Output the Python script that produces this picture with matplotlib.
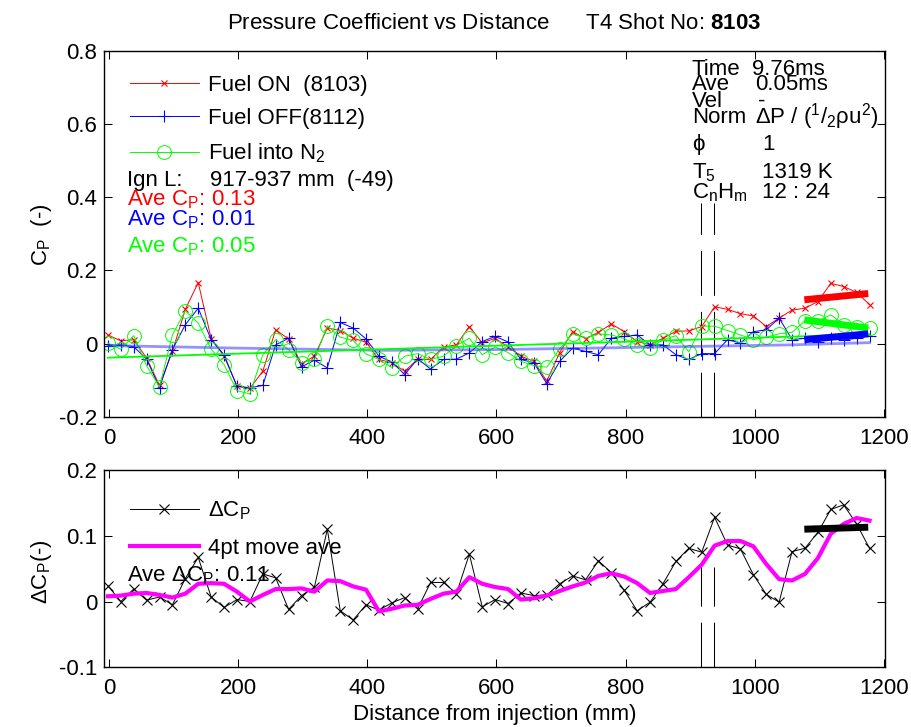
import matplotlib

matplotlib.use("Agg")
import matplotlib.pyplot as plt

plt.rcParams["font.family"] = ["Liberation Sans", "DejaVu Sans"]
plt.rcParams["mathtext.fontset"] = "custom"
plt.rcParams["mathtext.rm"] = "Liberation Sans"
plt.rcParams["mathtext.it"] = "Liberation Sans:italic"
plt.rcParams["mathtext.bf"] = "Liberation Sans:bold"
plt.rcParams["axes.unicode_minus"] = False

# transducer positions, mm from injection
distance = [
    -2, 18, 38, 58, 78, 98, 118, 138, 158, 178,
    198, 218, 238, 258, 278, 298, 318, 338, 358, 378,
    398, 418, 438, 458, 478, 498, 518, 538, 558, 578,
    598, 618, 638, 658, 678, 698, 718, 738, 758, 778,
    798, 818, 838, 858, 878, 898, 918, 938, 958, 978,
    998, 1018, 1038, 1058, 1078, 1098, 1118, 1138, 1158, 1178,
]

cp_fuel_on = [
    0.024, 0.008, 0.011, -0.039, -0.114, -0.021, 0.094, 0.167, 0.014, -0.034,
    -0.116, -0.122, -0.075, 0.038, 0.013, -0.054, -0.034, 0.043, 0.036, 0.015,
    0.004, -0.043, -0.052, -0.075, -0.042, -0.043, -0.009, -0.003, 0.047, 0.002,
    0.015, -0.009, -0.034, -0.048, -0.102, -0.024, 0.033, 0.014, 0.031, 0.054,
    0.033, 0.006, -0.003, 0.015, 0.034, 0.035, 0.047, 0.101, 0.094, 0.082,
    0.076, 0.047, 0.070, 0.092, 0.097, 0.115, 0.165, 0.156, 0.140, 0.107,
]

cp_fuel_off = [
    -0.005, -0.003, -0.008, -0.042, -0.120, -0.016, 0.052, 0.097, 0.011, -0.030,
    -0.116, -0.120, -0.114, -0.003, 0.015, -0.063, -0.045, -0.066, 0.058, 0.043,
    0.013, -0.034, -0.050, -0.084, -0.041, -0.069, -0.043, -0.042, -0.025, 0.006,
    0.020, 0.005, -0.043, -0.052, -0.109, -0.048, -0.012, -0.021, -0.030, 0.015,
    0.020, 0.024, -0.003, -0.003, -0.030, -0.043, -0.027, -0.027, 0.011, 0.002,
    0.033, 0.038, 0.070, 0.011, 0.015, 0.006, 0.015, 0.010, 0.015, 0.022,
]

cp_fuel_n2 = [
    0.002, -0.015, 0.022, -0.060, -0.118, 0.024, 0.090, 0.056, -0.015, -0.057,
    -0.128, -0.137, -0.030, 0.011, -0.016, -0.052, -0.043, 0.049, 0.018, 0.009,
    -0.028, -0.043, -0.065, -0.034, -0.027, -0.043, -0.034, -0.005, 0.015, -0.030,
    -0.009, -0.024, -0.048, -0.060, -0.064, -0.014, 0.027, 0.015, 0.027, 0.024,
    0.014, -0.003, -0.012, 0.011, 0.022, -0.022, 0.048, 0.048, 0.036, 0.024,
    0.011, 0.018, 0.027, 0.031, 0.063, 0.061, 0.079, 0.052, 0.047, 0.043,
]

delta_cp = [
    0.024, 0.000, 0.019, 0.002, 0.007, -0.005, 0.035, 0.067, 0.007, -0.009,
    0.003, 0.000, 0.042, 0.036, -0.012, 0.009, 0.022, 0.110, -0.014, -0.028,
    -0.005, -0.013, -0.002, 0.006, -0.011, 0.029, 0.029, 0.012, 0.072, -0.008,
    0.003, -0.003, 0.013, 0.009, 0.010, 0.027, 0.039, 0.033, 0.062, 0.044,
    0.017, -0.014, -0.001, 0.027, 0.061, 0.081, 0.075, 0.128, 0.086, 0.080,
    0.041, 0.011, -0.001, 0.076, 0.081, 0.105, 0.140, 0.147, 0.118, 0.081,
]

delta_move_ave = [
    0.008, 0.009, 0.012, 0.013, 0.010, 0.006, 0.012, 0.027, 0.028, 0.027,
    0.015, 0.000, 0.010, 0.019, 0.019, 0.020, 0.015, 0.032, 0.031, 0.023,
    0.018, -0.015, -0.011, -0.006, -0.005, 0.004, 0.012, 0.015, 0.037, 0.027,
    0.022, 0.019, 0.003, 0.005, 0.009, 0.016, 0.023, 0.029, 0.039, 0.043,
    0.038, 0.028, 0.013, 0.016, 0.019, 0.037, 0.056, 0.085, 0.092, 0.092,
    0.084, 0.057, 0.034, 0.032, 0.042, 0.066, 0.103, 0.118, 0.127, 0.123,
]

# slow trend lines under the data
n2_trend_x = [-2, 1178]
n2_trend = [-0.038, 0.026]
off_trend_x = [-2, 200, 420, 600, 850, 1060, 1178]
off_trend = [-0.005, -0.012, -0.018, -0.016, -0.009, -0.003, 0.003]

# averaging window at the end of the duct
fit_x = [1077, 1176]
fit_on = [0.120, 0.137]
fit_off = [0.011, 0.027]
fit_n2 = [0.065, 0.043]
fit_delta = [0.110, 0.113]

# ignition location markers
ign_x = [917, 937]
ign_cp = [-0.2, 0.383]
ign_dcp = [-0.1, 0.052]

x_ticks = [0, 200, 400, 600, 800, 1000, 1200]
cp_ticks = [-0.2, 0, 0.2, 0.4, 0.6, 0.8]
cp_tick_labels = ["-0.2", "0", "0.2", "0.4", "0.6", "0.8"]
dcp_ticks = [-0.1, 0, 0.1, 0.2]
dcp_tick_labels = ["-0.1", "0", "0.1", "0.2"]

FS = 16
W, H = 912, 727
AX_L, AX_R = 104, 885


def fig_rect(top_px, bottom_px):
    return [AX_L / W, 1 - bottom_px / H, (AX_R - AX_L) / W, (bottom_px - top_px) / H]


def style_axes(ax, yticks, ylabels, ylim):
    ax.set_xlim(-8, 1202)
    ax.set_ylim(*ylim)
    ax.set_xticks(x_ticks)
    ax.set_xticklabels([str(t) for t in x_ticks])
    ax.set_yticks(yticks)
    ax.set_yticklabels(ylabels)
    ax.tick_params(direction="in", top=True, right=True, length=5.5, width=0.75, labelsize=FS)
    ax.tick_params(axis="y", pad=5)
    ax.tick_params(axis="x", pad=8)
    for spine in ax.spines.values():
        spine.set_linewidth(1.0)


def draw_ign_lines(ax, yrange):
    for x in ign_x:
        ax.plot([x, x], yrange, color="black", lw=0.75, dashes=(43, 15.4), zorder=1)


fig = plt.figure(figsize=(W / 100, H / 100), dpi=100)
ax1 = fig.add_axes(fig_rect(50.7, 417))
ax2 = fig.add_axes(fig_rect(470, 667.3))

# ---- top: pressure coefficient ----
draw_ign_lines(ax1, ign_cp)
ax1.plot(distance, cp_fuel_on, color="red", lw=0.7, marker="x", ms=5, mew=0.8, label="Fuel ON  (8103)")
ax1.plot(distance, cp_fuel_off, color="blue", lw=0.7, marker="+", ms=9, mew=0.8, label="Fuel OFF(8112)")
ax1.plot(distance, cp_fuel_n2, color="#00ff00", lw=0.7, marker="o", ms=10, mew=0.7, mfc="none",
         label=r"Fuel into $\mathregular{N_2}$")
ax1.plot(off_trend_x, off_trend, color="#3a3aff", lw=2.0, alpha=0.55)
ax1.plot(n2_trend_x, n2_trend, color="#00ff00", lw=1.3)
for vals, col in ((fit_on, "red"), (fit_n2, "#00ff00"), (fit_off, "blue")):
    ax1.plot(fit_x, vals, color=col, lw=5, solid_capstyle="butt", zorder=5)
style_axes(ax1, cp_ticks, cp_tick_labels, (-0.2, 0.8))

ax1.legend(loc="upper left", bbox_to_anchor=(0.0333, 0.934), frameon=False, fontsize=FS,
           handlelength=3.1, handletextpad=0.4, borderpad=0, borderaxespad=0, labelspacing=0.55)


def top_text(px, py, s, **kw):
    ax1.text((px - AX_L) / (AX_R - AX_L), (417 - py) / (417 - 50.7), s, transform=ax1.transAxes,
             fontsize=FS, va="baseline", ha="left", **kw)


top_text(127, 185.7, "Ign L:")
top_text(210, 185.7, "917-937 mm  (-49)")
top_text(127, 205.7, r"Ave $\mathregular{C_P}$: 0.13", color="red")
top_text(127, 225.7, r"Ave $\mathregular{C_P}$: 0.01", color="blue")
top_text(127, 252.3, r"Ave $\mathregular{C_P}$: 0.05", color="#00ff00")

info_rows = [
    (75, "Time", 752, "9.76ms"),
    (90, "Ave", 755, "0.05ms"),
    (106.7, "Vel", 758, "-"),
    (123, "Norm", 755, r"$\mathregular{\Delta P\ /\ (^1/_2\rho u^2)}$"),
    (150, "\u03d5", 762, "1"),
    (178, r"$\mathregular{T_5}$", 762, "1319 K"),
    (198, r"$\mathregular{C_nH_m}$", 762, "12 : 24"),
]
for py, label, vx, value in info_rows:
    top_text(691.7, py, label)
    top_text(vx, py, value)

# ---- bottom: difference ----
draw_ign_lines(ax2, ign_dcp)
ax2.plot(distance, delta_cp, color="black", lw=0.7, marker="x", ms=7, mew=0.8,
         label=r"$\mathregular{\Delta C_P}$")
ax2.plot(distance, delta_move_ave, color="#ff00ff", lw=3, label="4pt move ave")
ax2.plot(fit_x, fit_delta, color="black", lw=5, solid_capstyle="butt", zorder=5)
style_axes(ax2, dcp_ticks, dcp_tick_labels, (-0.1, 0.2))

ax2.legend(loc="upper left", bbox_to_anchor=(0.0333, 0.85), frameon=False, fontsize=FS,
           handlelength=3.1, handletextpad=0.4, borderpad=0, borderaxespad=0, labelspacing=0.71)
ax2.text((127 - AX_L) / (AX_R - AX_L), (667.3 - 581.7) / (667.3 - 470), r"Ave $\mathregular{\Delta C_P}$: 0.11",
         transform=ax2.transAxes, fontsize=FS, va="baseline")

# ---- figure labels ----
xc = (AX_L + AX_R) / 2 / W
fig.text(xc, 1 - 29 / H, r"Pressure Coefficient vs Distance      T4 Shot No: $\mathbf{8103}$",
         ha="center", va="baseline", fontsize=FS)
fig.text(xc, 1 - 720 / H, "Distance from injection (mm)", ha="center", va="baseline", fontsize=FS)
fig.text(42 / W, 1 - 235 / H, r"$\mathregular{C_P}$  (-)", rotation=90, ha="center", va="center", fontsize=FS)
fig.text(42 / W, 1 - 572 / H, r"$\mathregular{\Delta C_P}$(-)", rotation=90, ha="center", va="center", fontsize=FS)

fig.savefig("out.png", dpi=100)
